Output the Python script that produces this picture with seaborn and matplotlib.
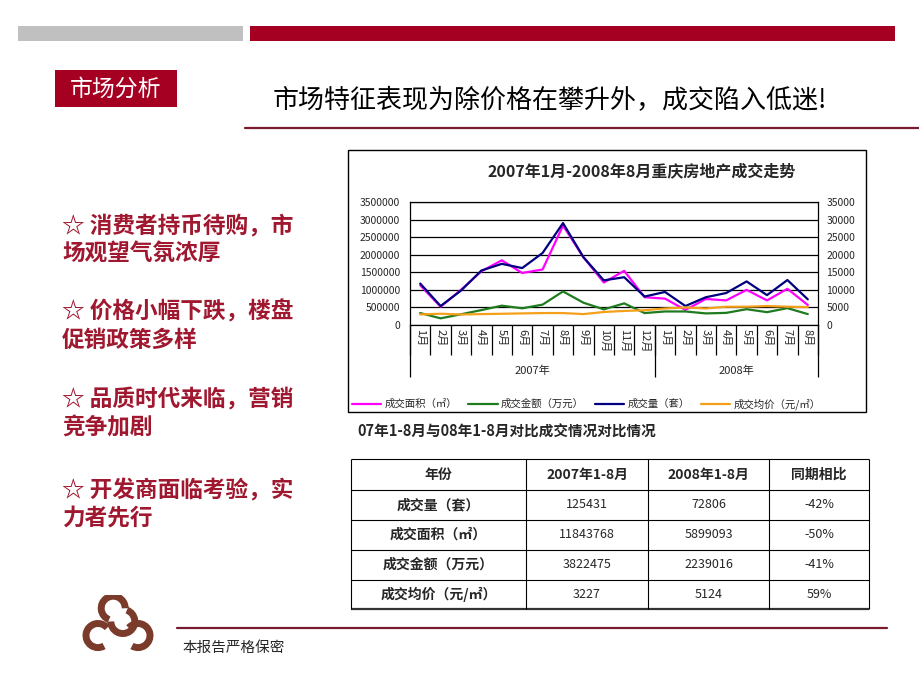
import numpy as np
import pandas as pd
import matplotlib
matplotlib.use("Agg")
import matplotlib.pyplot as plt
import seaborn as sns
from matplotlib.patches import Rectangle, Arc
from matplotlib.lines import Line2D

# monthly data, Jan 2007 - Aug 2008
months = ['1月', '2月', '3月', '4月', '5月', '6月', '7月', '8月', '9月', '10月', '11月', '12月',
          '1月', '2月', '3月', '4月', '5月', '6月', '7月', '8月']
years = ['2007年', '2008年']
area = [1130000, 520000, 1000000, 1530000, 1840000, 1480000, 1580000, 2830000, 1930000, 1210000,
        1540000, 790000, 750000, 430000, 740000, 700000, 1000000, 700000, 1030000, 570000]
amount = [340000, 190000, 305000, 425000, 550000, 475000, 580000, 955000, 635000, 445000,
          615000, 340000, 385000, 385000, 330000, 345000, 450000, 365000, 480000, 310000]
volume = [11800, 5400, 9800, 15500, 17400, 16200, 20500, 29000, 19300, 12700,
          13600, 8100, 9400, 5400, 7900, 9100, 12400, 8500, 12800, 7300]
price = [3000, 3200, 3000, 3100, 3200, 3300, 3400, 3400, 3100, 3700,
         4000, 4200, 4700, 5000, 4700, 5200, 5200, 5400, 5200, 5100]

series_names = ['成交面积（㎡）', '成交金额（万元）', '成交量（套）', '成交均价（元/㎡）']
series_colors = ['#ff00ff', '#1e7b1e', '#000080', '#f5a01a']

table_header = ['年份', '2007年1-8月', '2008年1-8月', '同期相比']
table_items = ['成交量（套）', '成交面积（㎡）', '成交金额（万元）', '成交均价（元/㎡）']
table_2007 = ['125431', '11843768', '3822475', '3227']
table_2008 = ['72806', '5899093', '2239016', '5124']
table_change = ['-42%', '-50%', '-41%', '59%']

bullets = [('☆ 消费者持币待购，市', '场观望气氛浓厚'),
           ('☆ 价格小幅下跌，楼盘', '促销政策多样'),
           ('☆ 品质时代来临，营销', '竞争加剧'),
           ('☆ 开发商面临考验，实', '力者先行')]

sns.set_theme(style='white')
plt.rcParams['font.family'] = ['Noto Sans CJK SC', 'DejaVu Sans']

W, H = 920, 690
fig = plt.figure(figsize=(9.2, 6.9), dpi=100)
fig.patch.set_facecolor('white')


def box(x0, y0, x1, y1):
    return [x0 / W, 1 - y1 / H, (x1 - x0) / W, (y1 - y0) / H]


def fx(x):
    return x / W


def fy(y):
    return 1 - y / H


RED = '#a50021'
DARK = '#7a1a2e'

# header decoration
fig.add_artist(Rectangle((fx(18), fy(41)), 225 / W, 15 / H, transform=fig.transFigure,
                         color='#c0c0c0', lw=0))
fig.add_artist(Rectangle((fx(250), fy(41)), 645 / W, 15 / H, transform=fig.transFigure,
                         color=RED, lw=0))
fig.add_artist(Rectangle((fx(55), fy(107)), 122 / W, 37 / H, transform=fig.transFigure,
                         color=RED, lw=0))
fig.text(fx(116), fy(89), '市场分析', color='white', fontsize=16.5, ha='center', va='center')
fig.text(fx(550), fy(101), '市场特征表现为除价格在攀升外，成交陷入低迷!', color='black',
         fontsize=18.7, ha='center', va='center')
fig.add_artist(Line2D([fx(245), fx(920)], [fy(128), fy(128)], transform=fig.transFigure,
                      color=DARK, lw=1.6))

# bullet points
for i, (l1, l2) in enumerate(bullets):
    y0 = [226, 312, 400, 491][i]
    fig.text(fx(62), fy(y0), l1, color='#a0182f', fontsize=16.3, fontweight='bold', va='center')
    fig.text(fx(62), fy(y0 + 28), l2, color='#a0182f', fontsize=16.3, fontweight='bold', va='center')

# chart frame and title
fig.add_artist(Rectangle((fx(348), fy(412)), 518 / W, 262 / H, transform=fig.transFigure,
                         fill=False, ec='black', lw=1))
fig.text(fx(642), fy(171), '2007年1月-2008年8月重庆房地产成交走势', fontsize=11.5,
         fontweight='bold', ha='center', va='center')

df = pd.DataFrame({'idx': range(len(months)), 'area': area, 'amount': amount,
                   'volume': volume, 'price': price})

ax = fig.add_axes(box(410, 202, 818, 325))
sns.lineplot(data=df, x='idx', y='area', ax=ax, color=series_colors[0], lw=1.6)
sns.lineplot(data=df, x='idx', y='amount', ax=ax, color=series_colors[1], lw=1.6)
ax.set_xlim(-0.5, 19.5)
ax.set_ylim(0, 3500000)
lticks = np.arange(0, 3500001, 500000)
ax.set_yticks(lticks, labels=[str(t) for t in lticks])
ax.set_xticks(range(len(months)), labels=months, rotation=-90)
ax.tick_params(axis='y', length=0, pad=7, labelsize=7.5)
ax.tick_params(axis='x', length=0, pad=3, labelsize=8)
ax.grid(axis='y', color='black', lw=0.9)
ax.set_xlabel('')
ax.set_ylabel('')
for s in ax.spines.values():
    s.set_color('black')
    s.set_linewidth(0.9)

ax2 = ax.twinx()
sns.lineplot(data=df, x='idx', y='volume', ax=ax2, color=series_colors[2], lw=1.6)
sns.lineplot(data=df, x='idx', y='price', ax=ax2, color=series_colors[3], lw=1.6)
ax2.set_ylim(0, 35000)
rticks = np.arange(0, 35001, 5000)
ax2.set_yticks(rticks, labels=[str(t) for t in rticks])
ax2.tick_params(axis='y', length=0, pad=6, labelsize=7.5)
ax2.set_ylabel('')
ax2.grid(False)
for s in ax2.spines.values():
    s.set_visible(False)

# multi-level category axis
trans = ax.get_xaxis_transform()
ax.vlines(np.arange(-0.5, 20, 1), -30 / 123, 0, transform=trans, colors='black', lw=0.9,
          clip_on=False)
ax.vlines([-0.5, 11.5, 19.5], -52 / 123, 0, transform=trans, colors='black', lw=0.9,
          clip_on=False)
ax.text(5.5, -46 / 123, years[0], transform=trans, ha='center', va='center', fontsize=8)
ax.text(15.5, -46 / 123, years[1], transform=trans, ha='center', va='center', fontsize=8)

handles = [Line2D([], [], color=c, lw=1.6) for c in series_colors]
fig.legend(handles, series_names, ncol=4, loc='center left',
           bbox_to_anchor=(fx(352), fy(404)), frameon=False, fontsize=7.5,
           handlelength=2.8, handletextpad=0.3, columnspacing=1.1,
           borderpad=0, borderaxespad=0)

# comparison table
fig.text(fx(357), fy(432), '07年1-8月与08年1-8月对比成交情况对比情况', fontsize=10.5,
         fontweight='bold', va='center')
tax = fig.add_axes(box(351, 459, 869, 609))
tax.set_xlim(0, 518)
tax.set_ylim(150, 0)
tax.axis('off')
col_edges = [0, 175, 297, 418, 518]
row_edges = [0, 31, 61, 91, 121, 150]
tax.hlines(row_edges[:-1], 0, 518, colors='black', lw=0.8, clip_on=False)
tax.hlines([150], 0, 518, colors='#333333', lw=1.6, clip_on=False)
tax.vlines(col_edges, 0, 150, colors='black', lw=0.8, clip_on=False)
col_mid = [(a + b) / 2 for a, b in zip(col_edges[:-1], col_edges[1:])]
row_mid = [(a + b) / 2 for a, b in zip(row_edges[:-1], row_edges[1:])]
for j, txt in enumerate(table_header):
    tax.text(col_mid[j], row_mid[0], txt, ha='center', va='center', fontsize=10,
             fontweight='bold')
for i in range(len(table_items)):
    r = row_mid[i + 1]
    tax.text(col_mid[0], r, table_items[i], ha='center', va='center', fontsize=10,
             fontweight='bold')
    tax.text(col_mid[1], r, table_2007[i], ha='center', va='center', fontsize=9)
    tax.text(col_mid[2], r, table_2008[i], ha='center', va='center', fontsize=9)
    tax.text(col_mid[3], r, table_change[i], ha='center', va='center', fontsize=9)

# footer
fig.add_artist(Line2D([fx(177), fx(887)], [fy(628), fy(628)], transform=fig.transFigure,
                      color=DARK, lw=1.6))
fig.text(fx(183), fy(648), '本报告严格保密', fontsize=10.5, va='center')

lax = fig.add_axes(box(78, 595, 158, 652))
lax.set_xlim(-1, 1)
lax.set_ylim(-0.71, 0.71)
lax.axis('off')
BROWN = '#7b3b2b'
for (cx, cy, t1, t2) in [(-0.12, 0.38, 0, 250), (0.12, 0.05, 180, 70),
                         (-0.5, -0.3, 40, 300), (0.5, -0.3, -120, 140)]:
    lax.add_patch(Arc((cx, cy), 0.6, 0.6, theta1=t1, theta2=t2, color=BROWN, lw=5))

fig.savefig('out.png', dpi=100)
